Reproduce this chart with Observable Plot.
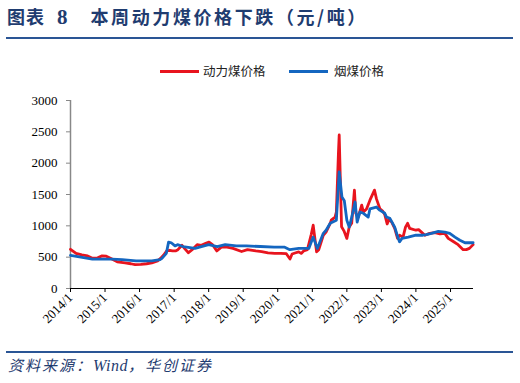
<!DOCTYPE html>
<html><head><meta charset="utf-8">
<script src="https://cdn.jsdelivr.net/npm/d3@7"></script>
<script src="https://cdn.jsdelivr.net/npm/@observablehq/plot@0.6"></script>
<style>
body{margin:0;width:520px;height:383px;position:relative;background:#fff;overflow:hidden;font-family:"Noto Sans CJK SC",sans-serif;}
#title{position:absolute;left:7px;top:4px;font-size:18px;font-weight:bold;color:#1f3c70;white-space:nowrap;line-height:24px;letter-spacing:1px;}
#title .num{font-family:"Liberation Serif",serif;font-size:21px;margin-left:12px;}
#title .main{margin-left:22px;letter-spacing:2.6px;}
#rule1{position:absolute;left:6px;top:37px;width:507px;height:2px;background:#2a5595;}
.lg{position:absolute;top:62px;font-size:12.5px;color:#222;line-height:18px;white-space:nowrap;}
.sw{position:absolute;top:70px;height:3px;}
#chart{position:absolute;left:0;top:85px;}
#rule2{position:absolute;left:6px;top:351px;width:507px;height:2px;background:#2a5595;}
#source{position:absolute;left:8px;top:355px;font-size:15px;font-style:italic;color:#1f3c70;white-space:nowrap;line-height:20px;letter-spacing:2px;}
#source .en{font-family:"Liberation Serif",serif;font-size:16px;letter-spacing:0.5px;}
</style></head>
<body>
<div id="title">图表<span class="num">8</span><span class="main">本周动力煤价格下跌（元/吨）</span></div>
<div id="rule1"></div>
<div id="legend"></div>
<div id="chart"></div>
<div id="rule2"></div>
<div id="source">资料来源：<span class="en">Wind</span>，华创证券</div>
<script>
const seriesNames = ["动力煤价格", "烟煤价格"];
const seriesColors = ["#e8141e", "#1466c0"];

const redDates = ["2014-01-01","2014-03-01","2014-05-01","2014-07-01","2014-08-15","2014-10-15","2014-12-01","2015-01-15","2015-03-15","2015-05-10","2015-08-01","2015-10-01","2015-11-15","2016-01-15","2016-03-15","2016-05-10","2016-07-10","2016-08-10","2016-09-10","2016-10-15","2016-11-15","2016-12-15","2017-01-15","2017-02-10","2017-03-25","2017-04-20","2017-06-01","2017-07-10","2017-09-01","2017-10-15","2017-12-01","2018-01-05","2018-02-10","2018-03-28","2018-05-15","2018-07-15","2018-09-15","2018-12-15","2019-02-15","2019-05-15","2019-07-15","2019-09-20","2019-12-01","2020-02-01","2020-04-01","2020-05-10","2020-06-01","2020-07-10","2020-08-10","2020-09-05","2020-10-01","2020-11-10","2020-12-20","2021-01-10","2021-02-15","2021-03-10","2021-04-27","2021-05-26","2021-07-09","2021-07-20","2021-08-29","2021-09-12","2021-10-04","2021-10-12","2021-10-26","2021-11-06","2021-12-01","2022-01-01","2022-01-26","2022-02-21","2022-03-22","2022-04-05","2022-05-01","2022-06-07","2022-06-25","2022-07-28","2022-09-02","2022-10-20","2022-11-10","2022-12-17","2023-01-12","2023-02-06","2023-03-03","2023-03-22","2023-04-20","2023-05-22","2023-06-21","2023-07-12","2023-08-18","2023-09-13","2023-10-05","2023-10-27","2024-01-01","2024-01-30","2024-02-28","2024-04-05","2024-05-25","2024-07-20","2024-09-12","2024-11-02","2024-12-08","2025-01-30","2025-03-22","2025-05-15","2025-06-17","2025-07-20","2025-08-28"];
const redValues = [625,560,535,520,485,490,520,515,470,425,410,395,380,385,395,410,440,480,530,600,610,600,600,620,690,640,570,620,700,690,720,740,700,600,660,660,640,590,620,600,590,570,560,560,555,470,550,570,585,560,600,620,860,1010,585,620,850,900,1040,1090,1140,1220,2160,2450,1620,985,920,800,980,1040,1570,1200,1140,1330,1220,1270,1410,1570,1430,1270,1240,1180,1030,1100,1060,960,800,850,820,980,1040,960,930,940,900,850,880,890,870,880,800,750,700,620,620,640,700];

const blueDates = ["2014-01-01","2014-04-20","2014-08-20","2015-03-15","2015-07-01","2015-11-25","2016-05-10","2016-08-05","2016-08-25","2016-10-10","2016-11-03","2016-12-01","2017-01-10","2017-02-05","2017-04-05","2017-08-10","2018-01-01","2018-04-01","2018-06-25","2018-10-20","2019-02-05","2019-07-01","2019-11-25","2020-03-15","2020-05-08","2020-06-15","2020-08-10","2020-11-25","2021-01-10","2021-02-23","2021-04-27","2021-05-26","2021-07-09","2021-09-12","2021-10-12","2021-11-10","2021-12-05","2022-01-01","2022-01-26","2022-02-14","2022-03-29","2022-04-20","2022-05-19","2022-06-25","2022-08-15","2022-09-02","2022-11-10","2022-12-14","2023-02-06","2023-02-24","2023-04-01","2023-05-22","2023-06-28","2023-07-12","2023-08-07","2023-10-12","2024-01-01","2024-03-14","2024-04-20","2024-06-13","2024-08-25","2024-11-02","2024-12-24","2025-02-17","2025-04-10","2025-06-03","2025-08-28"];
const blueValues = [528,500,470,470,460,440,440,460,480,560,740,730,680,700,670,640,700,670,700,680,680,670,660,660,620,630,640,640,820,640,880,930,1040,1090,1860,1460,1400,1090,980,1090,1380,1060,1220,1200,1140,1270,1300,1250,1200,1140,1120,980,800,745,800,820,850,850,860,880,910,900,880,820,770,730,730];

const yTicks = [0,500,1000,1500,2000,2500,3000];
const xTickYears = [2014,2015,2016,2017,2018,2019,2020,2021,2022,2023,2024,2025];

const red = redDates.map((d,i)=>({date:new Date(d), value:redValues[i]}));
const blue = blueDates.map((d,i)=>({date:new Date(d), value:blueValues[i]}));
const xStart = new Date("2014-01-01");
const xEnd = new Date("2025-09-01");

const chart = Plot.plot({
  width:520, height:255,
  marginLeft:70, marginRight:47, marginTop:15, marginBottom:52,
  style:{fontFamily:"'Liberation Serif', serif", fontSize:"13px", color:"#000", background:"#fff", overflow:"visible"},
  x:{type:"utc", domain:[xStart, xEnd]},
  y:{domain:[0,3000]},
  marks:[
    Plot.axisY(yTicks, {tickSize:4, tickPadding:9, stroke:"#888", fill:"#000", label:null, tickFormat:d=>String(d)}),
    Plot.axisX(xTickYears.map(y=>new Date(Date.UTC(y,0,1))), {tickSize:4, tickRotate:-45, tickFormat:d=>`${d.getUTCFullYear()}/1`, label:null, tickPadding:3}),
    Plot.ruleX([xStart], {stroke:"#888", strokeWidth:1.5}),
    Plot.ruleY([0], {stroke:"#000"}),
    Plot.lineY(red, {x:"date", y:"value", stroke:seriesColors[0], strokeWidth:2.8}),
    Plot.lineY(blue, {x:"date", y:"value", stroke:seriesColors[1], strokeWidth:2.8})
  ]
});
document.getElementById("chart").appendChild(chart);

const legend = document.getElementById("legend");
const swX = [160, 289], txX = [203, 334];
seriesNames.forEach((n,i)=>{
  const s = document.createElement("div");
  s.className="sw"; s.style.left=swX[i]+"px"; s.style.width="39px"; s.style.background=seriesColors[i];
  legend.appendChild(s);
  const t = document.createElement("div");
  t.className="lg"; t.style.left=txX[i]+"px"; t.textContent=n;
  legend.appendChild(t);
});
</script>
</body></html>
